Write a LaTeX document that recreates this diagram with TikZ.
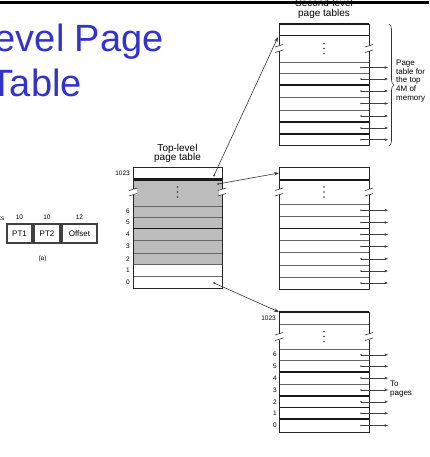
\documentclass[tikz,border=0pt]{standalone}
\usepackage{fontspec}
\setmainfont{Liberation Sans}
\usetikzlibrary{arrows.meta,decorations.pathreplacing}
\definecolor{titleblue}{RGB}{51,51,204}
\definecolor{cellgray}{RGB}{188,188,188}
\newcommand\brkmark[2]{%
  \fill[white] (#1-3.5,#2-3) rectangle (#1+3.5,#2+3);
  \draw[breakline] (#1-4,#2-1.5) -- (#1+4,#2-4);
  \draw[breakline] (#1-4,#2+4) -- (#1+4,#2+1.5);}
\newcommand\dotsvert[2]{%
  \fill[black!80] (#1,#2-5) circle[radius=0.8pt];
  \fill[black!80] (#1,#2) circle[radius=0.8pt];
  \fill[black!80] (#1,#2+5) circle[radius=0.8pt];}
\begin{document}
\begin{tikzpicture}[x=1pt,y=-1pt,
  title/.style={font=\fontsize{38}{42}\selectfont, text=titleblue, inner sep=0},
  hdr/.style={font=\fontsize{10}{11}\selectfont, inner sep=0},
  lbl/.style={font=\fontsize{6.5}{7}\selectfont, inner sep=0},
  side/.style={font=\fontsize{8}{8.6}\selectfont, inner sep=0, align=left},
  field/.style={draw=black!75, line width=1.3, minimum height=19pt, inner sep=0, font=\fontsize{8}{9}\selectfont},
  rowline/.style={draw=black!60, line width=0.6},
  heavy/.style={draw=black!90, line width=1.6},
  edge/.style={draw=black!85, line width=0.8},
  breakline/.style={draw=black!80, line width=0.6},
  toarrow/.style={draw=black!75, line width=0.5, -{Stealth[length=3.5pt,width=2.6pt]}},
  ptr/.style={draw=black!80, line width=0.6, -{Stealth[length=5pt,width=3.5pt]}}
]
\useasboundingbox (0,0) rectangle (429,457);
\clip (0,0) rectangle (429,457);

% ---------- title ----------
\node[title, anchor=base east] (title1) at (164,52) {Two-Level Page};
\node[title, anchor=base east] (title2) at (82,97) {Table};

% ---------- (a) address ----------
\node[field, minimum width=25pt] (pt1) at (19.5,233.5) {PT1};
\node[field, minimum width=26pt] (pt2) at (47,233.5) {PT2};
\node[field, minimum width=35pt] (off) at (79.5,233.5) {Offset};
\node[lbl] (bits1) at (19.5,217) {10};
\node[lbl] (bits2) at (47,217) {10};
\node[lbl] (bits3) at (79.5,217) {12};
\node[lbl, anchor=base east] (bits) at (4.5,220) {Bits};
\node[lbl] (capa) at (42.5,259) {(a)};

% ---------- top-level page table ----------
\fill[cellgray] (133,178.5) rectangle (222,264.5);
\foreach \y in {206,217,240.5,253,264.5,276} \draw[rowline] (133,\y) -- (222,\y);
\draw[draw=black!90, line width=2.2] (133,179.5) -- (222,179.5);
\draw[heavy] (133,228.5) -- (222,228.5);
\draw[edge] (133,167) rectangle (222,288);
\brkmark{133}{192}
\brkmark{222}{192}
\dotsvert{177.5}{192}
\node[hdr, anchor=base] (tl1) at (177.5,151) {Top-level};
\node[hdr, anchor=base] (tl2) at (177.5,160.5) {page table};
\node[lbl, anchor=east] (Ln1023) at (130,173) {1023};
\foreach \a/\b/\n in {206/217/6,217/228.5/5,228.5/240.5/4,240.5/253/3,253/264.5/2,264.5/276/1,276/288/0}
  \node[lbl, anchor=east] (Ln\n) at (130,{(\a+\b)/2}) {\n};

% ---------- second-level table: top ----------
\foreach \y in {62,73,97,110} \draw[rowline] (279,\y) -- (369,\y);
\foreach \y in {35.5,85,122,134} \draw[heavy] (279,\y) -- (369,\y);
\draw[edge] (279,24) rectangle (369,145.5);
\draw[heavy] (279,24) -- (369,24);
\brkmark{279}{48.5}
\brkmark{369}{48.5}
\dotsvert{324}{48.5}
\foreach \a/\b [count=\i] in {62/73,73/85,85/97,97/110,110/122,122/134,134/145.5}{
  \coordinate (Ts\i) at (361,{(\a+\b)/2});
  \coordinate (Te\i) at (388,{(\a+\b)/2});
  \fill[black!75] (Ts\i) circle[radius=0.8pt];
  \draw[toarrow] (Ts\i) -- (Te\i);
}
\draw[decorate, decoration={brace, amplitude=5pt}, line width=0.6, draw=black!80] (389,24) -- (389,146);
\node[side, anchor=north west] (sidelbl) at (396,60) {Page\\table for\\the top\\4M of\\memory};

% ---------- second-level table: middle ----------
\foreach \y in {204,216.5,240.5,252.5,265,277} \draw[rowline] (279,\y) -- (369,\y);
\foreach \y in {180,228.5} \draw[heavy] (279,\y) -- (369,\y);
\draw[edge] (279,167) rectangle (369,289);
\brkmark{279}{192}
\brkmark{369}{192}
\dotsvert{324}{192}
\foreach \a/\b [count=\i] in {204/216.5,216.5/228.5,228.5/240.5,240.5/252.5,252.5/265,265/277,277/289}{
  \coordinate (Ms\i) at (361,{(\a+\b)/2});
  \coordinate (Me\i) at (388,{(\a+\b)/2});
  \fill[black!75] (Ms\i) circle[radius=0.8pt];
  \draw[toarrow] (Ms\i) -- (Me\i);
}

% ---------- second-level table: bottom ----------
\foreach \y in {324,349,360.5,384} \draw[rowline] (279,\y) -- (369,\y);
\foreach \y in {372,396,407.5,419} \draw[heavy] (279,\y) -- (369,\y);
\draw[edge] (279,312) rectangle (369,432);
\draw[heavy] (279,312) -- (369,312);
\brkmark{279}{336.5}
\brkmark{369}{336.5}
\dotsvert{324}{336.5}
\node[lbl, anchor=east] (Bn1023) at (276,318) {1023};
\foreach \a/\b/\n [count=\i] in {349/360.5/6,360.5/372/5,372/384/4,384/396/3,396/407.5/2,407.5/419/1,419/432/0}{
  \node[lbl, anchor=east] (Bn\n) at (277,{(\a+\b)/2}) {\n};
  \coordinate (Bs\i) at (361,{(\a+\b)/2});
  \coordinate (Be\i) at (388,{(\a+\b)/2});
  \fill[black!75] (Bs\i) circle[radius=0.8pt];
  \draw[toarrow] (Bs\i) -- (Be\i);
}
\node[side, anchor=north west] (topages) at (390,381) {To\\pages};

% ---------- pointers from top-level table ----------
\coordinate (Lsrc1023) at (214,175.5);
\coordinate (Lsrc1) at (218,184);
\coordinate (Lsrc0) at (214,283);
\coordinate (Tdst) at (278,37);
\coordinate (Mdst) at (279,173);
\coordinate (Bdst) at (279,312);
\fill[black!80] (Lsrc1023) circle[radius=1pt];
\fill[black!80] (Lsrc1) circle[radius=1pt];
\fill[black!80] (Lsrc0) circle[radius=1pt];
\draw[ptr] (Lsrc1023) -- (Tdst);
\draw[ptr] (Lsrc1) -- (Mdst);
\draw[ptr] (Lsrc0) -- (Bdst);

% ---------- header ----------
\node[hdr, anchor=base] (sl1) at (324,7) {Second-level};
\node[hdr, anchor=base] (sl2) at (324,16.5) {page tables};
\draw[line width=3] (0,3) -- (429,3);
\end{tikzpicture}
\end{document}
